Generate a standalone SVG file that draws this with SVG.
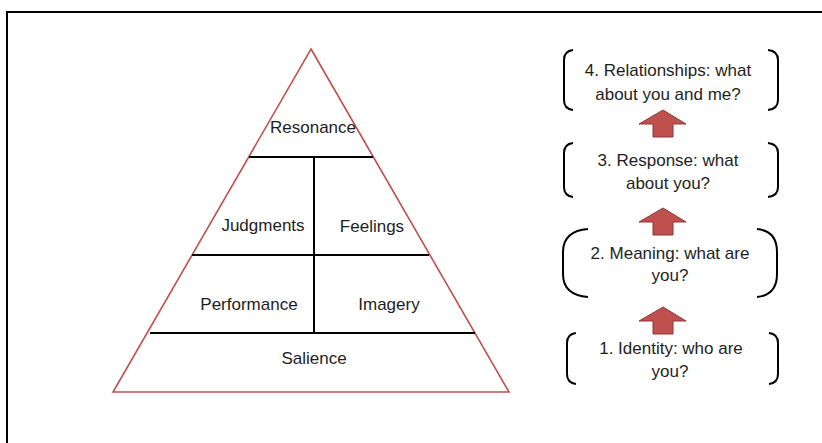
<svg xmlns="http://www.w3.org/2000/svg" width="822" height="443" viewBox="0 0 822 443">
<defs>
<style>
.t{font-family:"Liberation Sans",Arial,sans-serif;font-size:17px;fill:#1e1e1e;text-anchor:middle}
.div{stroke:#000;stroke-width:2;fill:none}
.br{stroke:#000;stroke-width:2;fill:none}
.ar{fill:#c0504d;stroke:#8c3836;stroke-width:1}
</style>
</defs>
<rect width="822" height="443" fill="#fff"/>
<path d="M7,443 V12 H822" fill="none" stroke="#000" stroke-width="2"/>
<g id="pyramid">
<polygon points="311,49 509,392 113,392" fill="#fff" stroke="#c0504d" stroke-width="1.6"/>
</g>
<g id="dividers">
<line class="div" x1="249" y1="157" x2="373" y2="157"/>
<line class="div" x1="192" y1="255" x2="429" y2="255"/>
<line class="div" x1="150" y1="333" x2="475" y2="333"/>
<line class="div" x1="314" y1="157" x2="314" y2="333"/>
</g>
<g id="resonance"><text class="t" x="313" y="133">Resonance</text></g>
<g id="judgments"><text class="t" x="263" y="231">Judgments</text></g>
<g id="feelings"><text class="t" x="372" y="232">Feelings</text></g>
<g id="performance"><text class="t" x="249" y="310">Performance</text></g>
<g id="imagery"><text class="t" x="389" y="310">Imagery</text></g>
<g id="salience"><text class="t" x="314" y="364">Salience</text></g>
<g id="step4">
<path class="br" d="M573,50 Q564,51 564,60 V100 Q564,109 573,110"/>
<path class="br" d="M768,50 Q778,51 778,60 V100 Q778,109 768,110"/>
<text class="t" x="668" y="76">4. Relationships: what</text>
<text class="t" x="668" y="100">about you and me?</text>
</g>
<g id="step3">
<path class="br" d="M573,143 Q564,144 564,153 V187 Q564,196 573,197"/>
<path class="br" d="M768,143 Q778,144 778,153 V187 Q778,196 768,197"/>
<text class="t" x="668" y="166">3. Response: what</text>
<text class="t" x="668" y="189">about you?</text>
</g>
<g id="step2">
<path class="br" d="M588,229 Q563,231 563,252 V274 Q563,295 588,297"/>
<path class="br" d="M757,229 Q777,231 777,252 V274 Q777,295 757,297"/>
<text class="t" x="670" y="259">2. Meaning: what are</text>
<text class="t" x="670" y="281">you?</text>
</g>
<g id="step1">
<path class="br" d="M576,333 Q567,334 567,343 V374 Q567,383 576,384"/>
<path class="br" d="M769,333 Q778,334 778,343 V374 Q778,383 769,384"/>
<text class="t" x="671" y="354">1. Identity: who are</text>
<text class="t" x="670" y="377">you?</text>
</g>
<g id="connectors">
<polygon class="ar" points="663,110 686,124 673,124 673,137 653,137 653,124 639,124"/>
<polygon class="ar" points="663,208 686,222 673,222 673,235 653,235 653,222 639,222"/>
<polygon class="ar" points="663,307 686,321 673,321 673,334 653,334 653,321 639,321"/>
</g>
</svg>
